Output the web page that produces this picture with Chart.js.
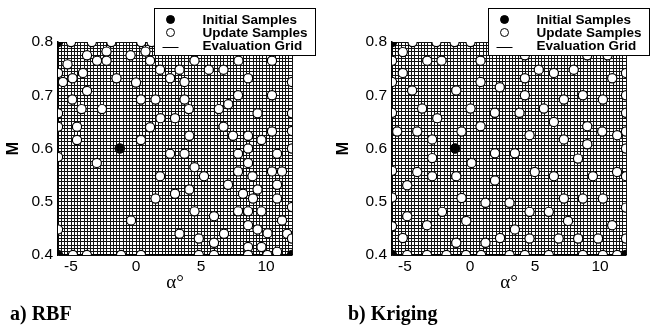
<!DOCTYPE html>
<html><head><meta charset="utf-8">
<script src="https://cdn.jsdelivr.net/npm/chart.js@4/dist/chart.umd.min.js"></script>
<style>
html,body{margin:0;padding:0;background:#fff;}
#wrap{position:relative;width:658px;height:328px;overflow:hidden;background:#fff;}
canvas{position:absolute;top:0;}
</style></head><body>
<div id="wrap">
<canvas id="c1" width="329" height="328" style="left:0px"></canvas>
<canvas id="c2" width="324" height="328" style="left:334px"></canvas>
</div>
<script>
// ---- tick labels ----
const alphaTickLabels = [-5, 0, 5, 10];
const machTickLabels = [0.4, 0.5, 0.6, 0.7, 0.8];
const alphaRange = [-6, 12];
const machRange = [0.4, 0.8];
const gridAlphaStep = 0.25;     // evaluation grid spacing in alpha
const gridMachStep = 0.00625;   // evaluation grid spacing in M

// ---- a) RBF ----
const rbfInitAlpha = [-6, -6, 12, 12, -1.25];
const rbfInitMach  = [0.4, 0.8, 0.4, 0.8, 0.6];
const rbfUpdAlpha = [
 -5.0,-3.4,-1.9,0.4,1.2,
 -2.27,-3.77,-3.0,-2.27,-0.42,0.73,1.08,-5.27,1.85,-4.08,-4.88,-5.62,-6,-1.5,0,2.62,3.35,3.73,4.5,5.6,6.73,7.88,8.62,10.46,12,
 -3.77,-4.9,0.38,1.5,3.73,7.85,10.46,
 -4.19,-2.62,4.06,6.37,7.1,9.35,-6,12,
 -4.54,-6,1.08,1.88,3.0,6.73,7.46,8.62,10.46,12,
 -4.54,0.38,4.1,9.65,8.62,7.85,10.85,12,2.62,3.73,
 -6,-3.02,8.62,4.5,1.85,5.23,7.85,8.96,10.46,11.23,
 7.08,10.85,4.1,3.0,8.23,9.35,1.5,9.0,10.85,
 4.5,6.0,7.85,8.62,9.65,12,-0.38,11.23,
 -6,8.62,9.35,10.12,3.35,6.77,11.62,12,4.83,6.0,8.62,9.65,10.85,
 -4.85,-3.78,-1.15,0.38,4.83,6.0,8.62,10.1
];
const rbfUpdMach = [
 0.8,0.8,0.8,0.8,0.8,
 0.782,0.775,0.765,0.765,0.775,0.782,0.765,0.758,0.748,0.742,0.732,0.725,0.742,0.732,0.724,0.732,0.748,0.725,0.765,0.748,0.748,0.765,0.732,0.765,0.725,
 0.708,0.692,0.692,0.692,0.692,0.7,0.7,
 0.674,0.674,0.674,0.674,0.683,0.666,0.666,0.666,
 0.641,0.641,0.64,0.657,0.657,0.641,0.624,0.624,0.632,0.633,
 0.616,0.616,0.624,0.616,0.6,0.59,0.59,0.6,0.59,0.59,
 0.584,0.573,0.573,0.565,0.548,0.548,0.557,0.548,0.557,0.557,
 0.532,0.532,0.523,0.515,0.515,0.523,0.506,0.506,0.506,
 0.482,0.473,0.482,0.482,0.482,0.49,0.465,0.465,
 0.448,0.456,0.448,0.441,0.44,0.44,0.44,0.431,0.431,0.423,0.415,0.415,0.406,
 0.4,0.4,0.4,0.4,0.4,0.4,0.4,0.4
];

// ---- b) Kriging ----
const krgInitAlpha = [-6, -6, 12, 12, -1.15];
const krgInitMach  = [0.4, 0.8, 0.4, 0.8, 0.6];
const krgUpdAlpha = [
 -4.42,-2.58,-1.19,0.04,
 -5.17,-6,-3.29,-2.19,0.81,-5.17,-6,0.81,2.29,-4.45,-1.06,-3.68,0.04,1.91,-6,-2.52,-5.6,-4.06,-0.65,0.81,-2.91,
 4.22,5.29,6.45,7.98,9.02,10.58,4.22,10.94,12,4.22,7.22,8.68,10.22,12,3.81,5.68,12,6.45,9.02,10.17,11.32,12,4.58,7.22,9.02,12,
 1.92,3.45,8.31,-2.91,0.12,-6,-4.06,-2.91,-1.06,1.92,-4.83,4.98,6.45,9.45,11.31,12,
 -6,-0.65,1.19,3.04,7.22,8.68,10.22,12,-4.83,-2.15,4.58,6.06,-0.29,7.54,-3.31,-6,3.45,10.94,
 -5.17,-1.06,1.19,2.31,4.58,6.82,8.32,9.85,12,
 -4.83,-3.31,-1.81,-0.31,0.85,3.04,4.22,6.06,8.68,10.22,11.32
];
const krgUpdMach = [
 0.8,0.8,0.8,0.8,
 0.781,0.765,0.765,0.765,0.765,0.742,0.725,0.725,0.715,0.709,0.709,0.675,0.675,0.667,0.667,0.657,0.632,0.632,0.632,0.642,0.617,
 0.775,0.748,0.742,0.748,0.775,0.775,0.732,0.732,0.742,0.7,0.692,0.7,0.692,0.7,0.667,0.675,0.667,0.65,0.642,0.632,0.625,0.632,0.625,0.617,0.608,0.6,
 0.591,0.591,0.581,0.582,0.573,0.558,0.556,0.548,0.548,0.54,0.531,0.556,0.548,0.548,0.556,0.548,
 0.508,0.507,0.498,0.498,0.506,0.506,0.506,0.489,0.473,0.481,0.481,0.481,0.464,0.464,0.456,0.454,0.448,0.456,
 0.432,0.423,0.423,0.432,0.431,0.431,0.431,0.431,0.431,
 0.4,0.4,0.4,0.4,0.4,0.4,0.4,0.4,0.4,0.4,0.4
];

const zip = (xs, ys) => xs.map((x, i) => ({x: x, y: ys[i]}));
const near = (v, list) => list.find(t => Math.abs(t - v) < 1e-6);

const overlay = {
  id: 'overlay',
  afterDraw(chart, args, o) {
    const ctx = chart.ctx, ca = chart.chartArea;
    const bx = Math.round(ca.left + o.dx) + 0.5, by = o.top + 0.5;
    ctx.save();
    ctx.fillStyle = '#fff';
    ctx.fillRect(bx, by, o.w, o.h);
    ctx.strokeStyle = '#000'; ctx.lineWidth = 1;
    ctx.strokeRect(bx, by, o.w, o.h);
    ctx.font = 'bold 13.5px "Liberation Sans", Arial, sans-serif';
    ctx.textBaseline = 'middle'; ctx.textAlign = 'left'; ctx.fillStyle = '#000';
    chart.data.datasets.forEach((d, i) => {
      const y = by + 11 + i * 13;
      const mx = bx + 16;
      if (d.showLine) {
        ctx.beginPath(); ctx.strokeStyle = d.borderColor; ctx.lineWidth = 1;
        ctx.moveTo(mx - 8, Math.round(y) + 1.5); ctx.lineTo(mx + 8, Math.round(y) + 1.5); ctx.stroke();
      } else {
        ctx.beginPath(); ctx.arc(mx, y, 4, 0, Math.PI * 2);
        ctx.fillStyle = d.backgroundColor; ctx.fill();
        ctx.strokeStyle = d.borderColor; ctx.lineWidth = 1; ctx.stroke();
      }
      ctx.fillStyle = '#000';
      ctx.fillText(d.label, bx + 48, y + 0.5);
    });
    ctx.font = 'bold 20px "Liberation Serif", "Times New Roman", serif';
    ctx.textBaseline = 'alphabetic';
    ctx.fillText(o.caption, o.capX, o.capY);
    ctx.restore();
  }
};

function makeChart(id, initA, initM, updA, updM, caption, capX, padRight, yTitlePad) {
  return new Chart(document.getElementById(id), {
    type: 'scatter',
    data: {
      datasets: [
        { label: 'Initial Samples', data: zip(initA, initM), backgroundColor: '#000', borderColor: '#000',
          borderWidth: 1, pointRadius: 4.8, clip: 0, order: 1 },
        { label: 'Update Samples', data: zip(updA, updM), backgroundColor: '#fff', borderColor: '#000',
          borderWidth: 1.2, pointRadius: 4.6, clip: 0, order: 2 },
        { label: 'Evaluation Grid', data: [], showLine: true, borderColor: '#000', borderWidth: 1, pointRadius: 0 }
      ]
    },
    options: {
      responsive: false, animation: false, devicePixelRatio: 1,
      layout: { padding: { left: 0, right: padRight, top: 42, bottom: 0 } },
      plugins: {
        legend: { display: false }, tooltip: { enabled: false },
        overlay: { dx: 96, top: 8, w: 161, h: 47, caption: caption, capX: capX, capY: 320 }
      },
      scales: {
        x: {
          type: 'linear', min: alphaRange[0], max: alphaRange[1],
          afterFit: s => { s.height = 73; },
          grid: { color: '#111', lineWidth: 1, drawTicks: false },
          border: { color: '#000', width: 1.5 },
          ticks: {
            stepSize: gridAlphaStep, autoSkip: false, maxRotation: 0, padding: 2, color: '#000',
            font: { family: '"Liberation Sans", Arial, sans-serif', size: 15.5 },
            callback: v => { const t = near(v, alphaTickLabels); return t === undefined ? '' : String(t); }
          },
          title: { display: true, text: 'α°', color: '#000', padding: { top: 0, bottom: 34 },
            font: { family: '"Liberation Serif", "Times New Roman", serif', size: 19, lineHeight: 1.2 } }
        },
        y: {
          type: 'linear', min: machRange[0], max: machRange[1],
          afterFit: s => { s.width = 58; },
          grid: { color: '#111', lineWidth: 1, drawTicks: false },
          border: { color: '#000', width: 1.5 },
          ticks: {
            stepSize: gridMachStep, autoSkip: false, padding: 5, color: '#000',
            font: { family: '"Liberation Sans", Arial, sans-serif', size: 15.5 },
            callback: v => { const t = near(v, machTickLabels); return t === undefined ? '' : t.toFixed(1); }
          },
          title: { display: true, text: 'M', color: '#000', padding: { top: yTitlePad, bottom: 0 },
            font: { family: '"Liberation Sans", Arial, sans-serif', size: 16, weight: 'bold', lineHeight: 1.2 } }
        }
      }
    },
    plugins: [overlay]
  });
}

makeChart('c1', rbfInitAlpha, rbfInitMach, rbfUpdAlpha, rbfUpdMach, 'a) RBF', 10, 37, 4);
makeChart('c2', krgInitAlpha, krgInitMach, krgUpdAlpha, krgUpdMach, 'b) Kriging', 14, 32, 0.3);
</script>
</body></html>
